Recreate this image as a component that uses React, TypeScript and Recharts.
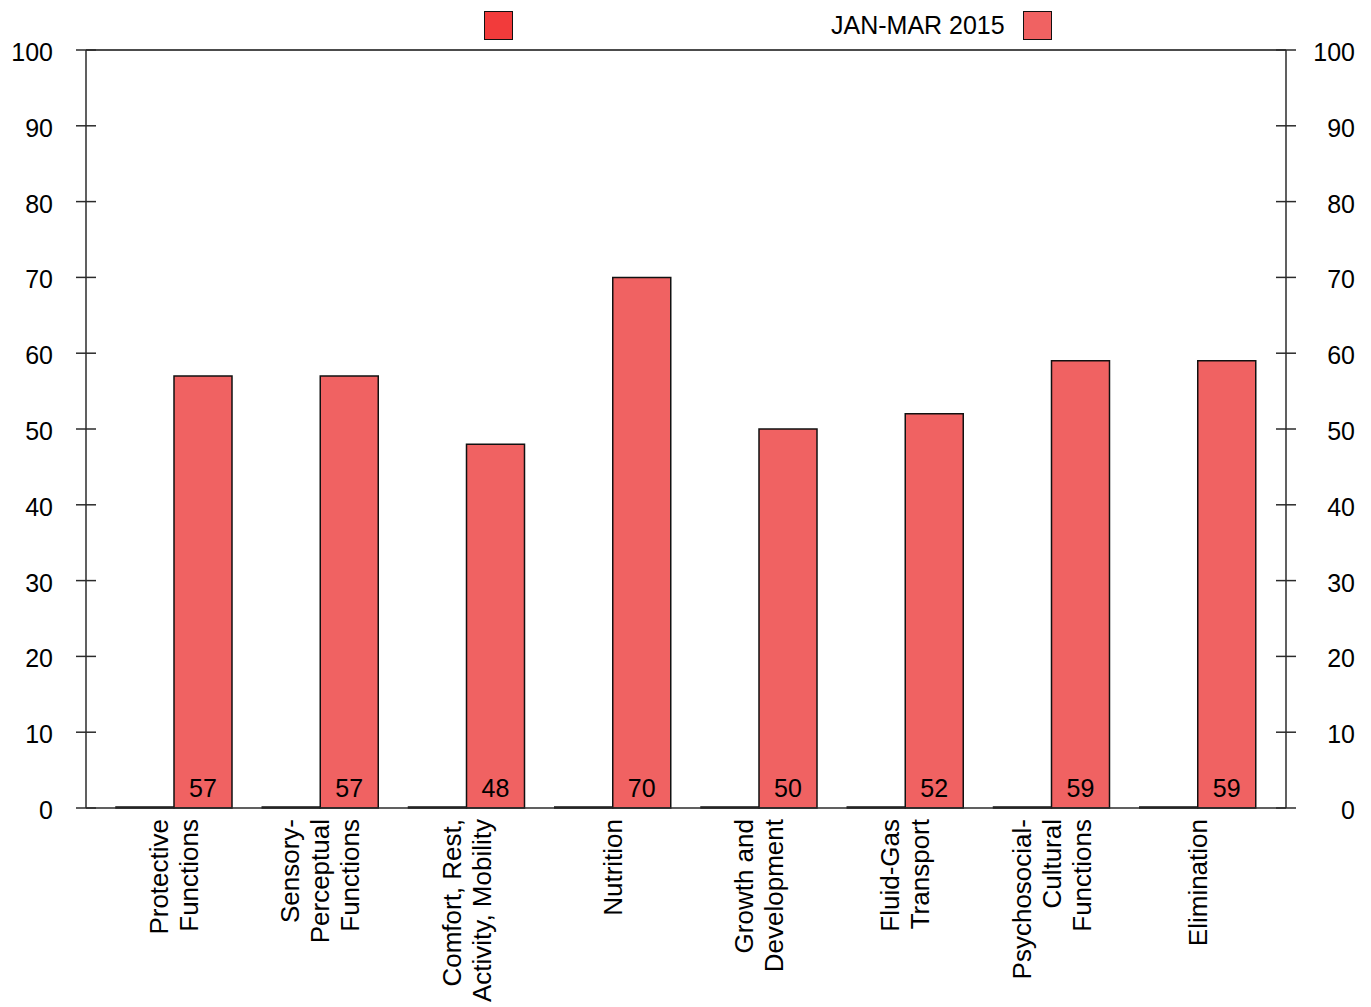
import { BarChart, Bar, XAxis, YAxis, Legend, LabelList, ReferenceLine } from 'recharts'

const categories = [
  'Protective\nFunctions',
  'Sensory-\nPerceptual\nFunctions',
  'Comfort, Rest,\nActivity, Mobility',
  'Nutrition',
  'Growth and\nDevelopment',
  'Fluid-Gas\nTransport',
  'Psychosocial-\nCultural\nFunctions',
  'Elimination',
]
const priorValues = [0, 0, 0, 0, 0, 0, 0, 0]
const currentValues = [57, 57, 48, 70, 50, 52, 59, 59]
const yTicks = [0, 10, 20, 30, 40, 50, 60, 70, 80, 90, 100]
const seriesNames = ['', 'JAN-MAR 2015']
const seriesColors = ['#F23B3B', '#F06262']

const FONT = '"Liberation Sans", Arial, sans-serif'
const AXIS_COLOR = '#2b2b2b'

const data = categories.map((name, i) => ({
  name,
  prior: priorValues[i],
  current: currentValues[i],
}))

function LeftTick(props: any) {
  const { x, y, payload } = props
  return (
    <g>
      <line x1={x + 23} x2={x + 43} y1={y} y2={y} stroke={AXIS_COLOR} strokeWidth={1.5} />
      <text x={x} y={y + 11} textAnchor="end" fontSize={25} fontFamily={FONT} fill="#000">
        {payload.value}
      </text>
    </g>
  )
}

function RightTick(props: any) {
  const { x, y, payload } = props
  return (
    <g>
      <line x1={x - 79} x2={x - 59} y1={y} y2={y} stroke={AXIS_COLOR} strokeWidth={1.5} />
      <text x={x} y={y + 11} textAnchor="end" fontSize={25} fontFamily={FONT} fill="#000">
        {payload.value}
      </text>
    </g>
  )
}

function CategoryTick(props: any) {
  const { x, y, payload } = props
  const lines = String(payload.value).split('\n')
  const first = 9 - (lines.length - 1) * 15
  return (
    <g transform={`translate(${x},${y}) rotate(-90)`}>
      <text textAnchor="end" fontSize={26} fontFamily={FONT} fill="#000">
        {lines.map((line, i) => (
          <tspan key={i} x={0} y={first + i * 30}>
            {line}
          </tspan>
        ))}
      </text>
    </g>
  )
}

function LegendContent() {
  return (
    <div style={{ height: 49, fontFamily: FONT, fontSize: 25, color: '#000' }}>
      <div style={{ display: 'flex', alignItems: 'center', height: 30, paddingTop: 9, paddingLeft: 484 }}>
        {seriesNames.map((name, i) => (
          <div
            key={i}
            style={{ display: 'flex', alignItems: 'center', marginLeft: i === 0 ? 0 : 318 }}
          >
            {name && <span style={{ marginRight: 18, lineHeight: '30px' }}>{name}</span>}
            <span
              style={{
                display: 'inline-block',
                width: 27,
                height: 27,
                background: seriesColors[i],
                border: '1.5px solid #111',
              }}
            />
          </div>
        ))}
      </div>
    </div>
  )
}

export default function App() {
  return (
    <div style={{ position: 'absolute', left: 0, top: 0, fontFamily: FONT }}>
      <BarChart
        width={1371}
        height={1007}
        data={data}
        margin={{ top: 1, right: 0, left: 0, bottom: 0 }}
        barGap={0}
        barSize={58}
      >
        <Legend verticalAlign="top" align="left" content={<LegendContent />} />
        <XAxis
          dataKey="name"
          height={199}
          padding={{ left: 15, right: 15 }}
          tickLine={false}
          tickSize={0}
          tickMargin={11}
          interval={0}
          axisLine={{ stroke: AXIS_COLOR, strokeWidth: 1.5 }}
          tick={<CategoryTick />}
        />
        <YAxis
          yAxisId="left"
          orientation="left"
          width={86}
          domain={[0, 100]}
          ticks={yTicks}
          interval={0}
          tickLine={false}
          tickSize={0}
          tickMargin={33}
          axisLine={{ stroke: AXIS_COLOR, strokeWidth: 1.5 }}
          tick={<LeftTick />}
        />
        <YAxis
          yAxisId="right"
          orientation="right"
          width={85}
          domain={[0, 100]}
          ticks={yTicks}
          interval={0}
          allowDataOverflow
          tickLine={false}
          tickSize={0}
          tickMargin={69}
          axisLine={{ stroke: AXIS_COLOR, strokeWidth: 1.5 }}
          tick={<RightTick />}
        />
        <ReferenceLine yAxisId="left" y={100} stroke="#111" strokeWidth={1.5} />
        <Bar
          yAxisId="left"
          dataKey="prior"
          name={seriesNames[0]}
          fill={seriesColors[0]}
          stroke="#111"
          strokeWidth={1.5}
          minPointSize={1}
          isAnimationActive={false}
        />
        <Bar
          yAxisId="left"
          dataKey="current"
          name={seriesNames[1]}
          fill={seriesColors[1]}
          stroke="#111"
          strokeWidth={1.5}
          isAnimationActive={false}
        >
          <LabelList
            dataKey="current"
            position="insideBottom"
            offset={11}
            fontSize={25}
            fontFamily={FONT}
            fill="#000"
          />
        </Bar>
      </BarChart>
    </div>
  )
}
